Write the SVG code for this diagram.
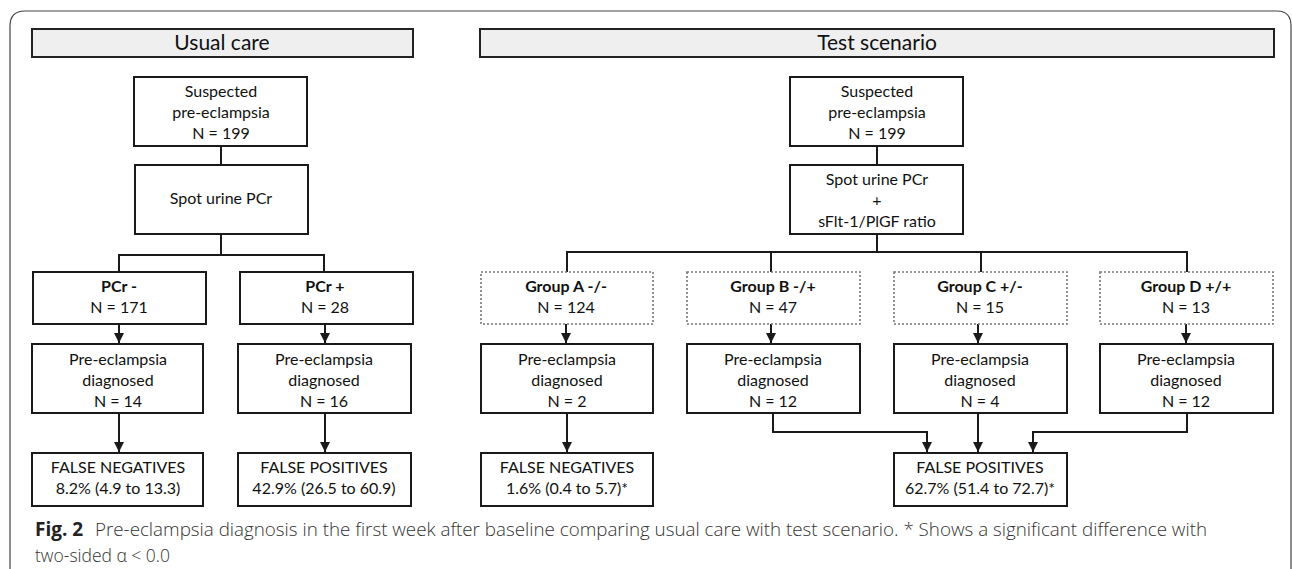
<svg xmlns="http://www.w3.org/2000/svg" width="1292" height="569" viewBox="0 0 1292 569">
<style>
.box{fill:#fff;stroke:#1a1a1a;stroke-width:2}
.dot{fill:#fff;stroke:#777;stroke-width:1.6;stroke-dasharray:2 2}
.hdr{fill:#efefef;stroke:#222;stroke-width:2}
.t{font-family:Lato,"Liberation Sans",sans-serif;font-size:16px;fill:#111;text-anchor:middle}
.b{font-weight:bold}
.h{font-family:Lato,"Liberation Sans",sans-serif;font-size:21px;fill:#111;text-anchor:middle}
.ln{fill:none;stroke:#1a1a1a;stroke-width:2}
.cap{font-family:"Open Sans","Noto Sans",sans-serif;font-size:19px;fill:#333;font-weight:300}
</style>
<defs>
<marker id="ah" markerUnits="userSpaceOnUse" markerWidth="12" markerHeight="10" refX="10" refY="5" orient="auto">
<path d="M0,0 L10,5 L0,10 Z" fill="#1a1a1a"/>
</marker>
</defs>
<rect width="1292" height="569" fill="#fff"/>
<path d="M10,569 V26 Q10,11 25,11 H1277 Q1291,11 1291,26 V569" fill="none" stroke="#444" stroke-width="1.2"/>

<g id="hdr-usual"><rect class="hdr" x="32" y="29" width="381" height="28"/><text class="h" x="222" y="50">Usual care</text></g>
<g id="hdr-test"><rect class="hdr" x="480" y="29" width="794" height="28"/><text class="h" x="877" y="50">Test scenario</text></g>

<g id="connectors">
<path class="ln" d="M221,146 V165"/>
<path class="ln" d="M221,234 V255 M119,272 V255 H324 V272"/>
<path class="ln" d="M119,324 V343" marker-end="url(#ah)"/>
<path class="ln" d="M325,324 V343" marker-end="url(#ah)"/>
<path class="ln" d="M119,413 V452" marker-end="url(#ah)"/>
<path class="ln" d="M325,413 V452" marker-end="url(#ah)"/>
<path class="ln" d="M877,146 V165"/>
<path class="ln" d="M877,234 V252 M567,272 V252 H1187 V272 M771,252 V272 M981,252 V272"/>
<path class="ln" d="M566,324 V343" marker-end="url(#ah)"/>
<path class="ln" d="M771,324 V343" marker-end="url(#ah)"/>
<path class="ln" d="M978,324 V343" marker-end="url(#ah)"/>
<path class="ln" d="M1186,324 V343" marker-end="url(#ah)"/>
<path class="ln" d="M567,413 V452" marker-end="url(#ah)"/>
<path class="ln" d="M773,413 V432 H927 V452" marker-end="url(#ah)"/>
<path class="ln" d="M978,413 V452" marker-end="url(#ah)"/>
<path class="ln" d="M1187,413 V432 H1033 V452" marker-end="url(#ah)"/>
</g>

<g id="u-suspected"><rect class="box" x="134" y="77" width="173" height="69"/><text class="t" x="221" y="97">Suspected</text><text class="t" x="221" y="118">pre-eclampsia</text><text class="t" x="221" y="139">N = 199</text></g>
<g id="u-spot"><rect class="box" x="135" y="165" width="173" height="69"/><text class="t" x="221" y="204">Spot urine PCr</text></g>
<g id="u-pcrneg"><rect class="box" x="33" y="272" width="173" height="52"/><text class="t b" x="119" y="292">PCr -</text><text class="t" x="119" y="313">N = 171</text></g>
<g id="u-pcrpos"><rect class="box" x="240" y="272" width="173" height="52"/><text class="t b" x="325" y="292">PCr +</text><text class="t" x="325" y="313">N = 28</text></g>
<g id="u-pe1"><rect class="box" x="32" y="344" width="171" height="69"/><text class="t" x="118" y="365">Pre-eclampsia</text><text class="t" x="118" y="386">diagnosed</text><text class="t" x="118" y="407">N = 14</text></g>
<g id="u-pe2"><rect class="box" x="238" y="344" width="173" height="69"/><text class="t" x="324" y="365">Pre-eclampsia</text><text class="t" x="324" y="386">diagnosed</text><text class="t" x="324" y="407">N = 16</text></g>
<g id="u-fn"><rect class="box" x="32" y="453" width="171" height="53"/><text class="t" x="118" y="473">FALSE NEGATIVES</text><text class="t" x="118" y="494">8.2% (4.9 to 13.3)</text></g>
<g id="u-fp"><rect class="box" x="238" y="453" width="173" height="53"/><text class="t" x="324" y="473">FALSE POSITIVES</text><text class="t" x="324" y="494">42.9% (26.5 to 60.9)</text></g>

<g id="t-suspected"><rect class="box" x="790" y="77" width="173" height="69"/><text class="t" x="877" y="97">Suspected</text><text class="t" x="877" y="118">pre-eclampsia</text><text class="t" x="877" y="139">N = 199</text></g>
<g id="t-spot"><rect class="box" x="790" y="165" width="173" height="69"/><text class="t" x="877" y="185">Spot urine PCr</text><text class="t" x="877" y="206">+</text><text class="t" x="877" y="227">sFlt-1/PlGF ratio</text></g>
<g id="t-ga"><rect class="dot" x="481" y="272" width="172" height="52"/><text class="t b" x="566" y="292">Group A -/-</text><text class="t" x="566" y="313">N = 124</text></g>
<g id="t-gb"><rect class="dot" x="687" y="272" width="173" height="52"/><text class="t b" x="773" y="292">Group B -/+</text><text class="t" x="773" y="313">N = 47</text></g>
<g id="t-gc"><rect class="dot" x="894" y="272" width="173" height="52"/><text class="t b" x="980" y="292">Group C +/-</text><text class="t" x="980" y="313">N = 15</text></g>
<g id="t-gd"><rect class="dot" x="1100" y="272" width="173" height="52"/><text class="t b" x="1186" y="292">Group D +/+</text><text class="t" x="1186" y="313">N = 13</text></g>
<g id="t-pea"><rect class="box" x="481" y="344" width="172" height="69"/><text class="t" x="567" y="365">Pre-eclampsia</text><text class="t" x="567" y="386">diagnosed</text><text class="t" x="567" y="407">N = 2</text></g>
<g id="t-peb"><rect class="box" x="687" y="344" width="173" height="69"/><text class="t" x="773" y="365">Pre-eclampsia</text><text class="t" x="773" y="386">diagnosed</text><text class="t" x="773" y="407">N = 12</text></g>
<g id="t-pec"><rect class="box" x="894" y="344" width="173" height="69"/><text class="t" x="980" y="365">Pre-eclampsia</text><text class="t" x="980" y="386">diagnosed</text><text class="t" x="980" y="407">N = 4</text></g>
<g id="t-ped"><rect class="box" x="1100" y="344" width="173" height="69"/><text class="t" x="1186" y="365">Pre-eclampsia</text><text class="t" x="1186" y="386">diagnosed</text><text class="t" x="1186" y="407">N = 12</text></g>
<g id="t-fn"><rect class="box" x="481" y="453" width="172" height="53"/><text class="t" x="567" y="473">FALSE NEGATIVES</text><text class="t" x="567" y="494">1.6% (0.4 to 5.7)*</text></g>
<g id="t-fp"><rect class="box" x="894" y="453" width="173" height="53"/><text class="t" x="980" y="473">FALSE POSITIVES</text><text class="t" x="980" y="494">62.7% (51.4 to 72.7)*</text></g>

<g id="caption">
<text x="35" y="536" font-family="'Open Sans','Noto Sans',sans-serif" font-size="19" font-weight="bold" fill="#222">Fig. 2</text>
<text class="cap" x="95" y="536" textLength="1112" lengthAdjust="spacingAndGlyphs">Pre-eclampsia diagnosis in the first week after baseline comparing usual care with test scenario. * Shows a significant difference with</text>
<text class="cap" x="35" y="562" textLength="135" lengthAdjust="spacingAndGlyphs">two-sided α &lt; 0.0</text>
</g>
</svg>
